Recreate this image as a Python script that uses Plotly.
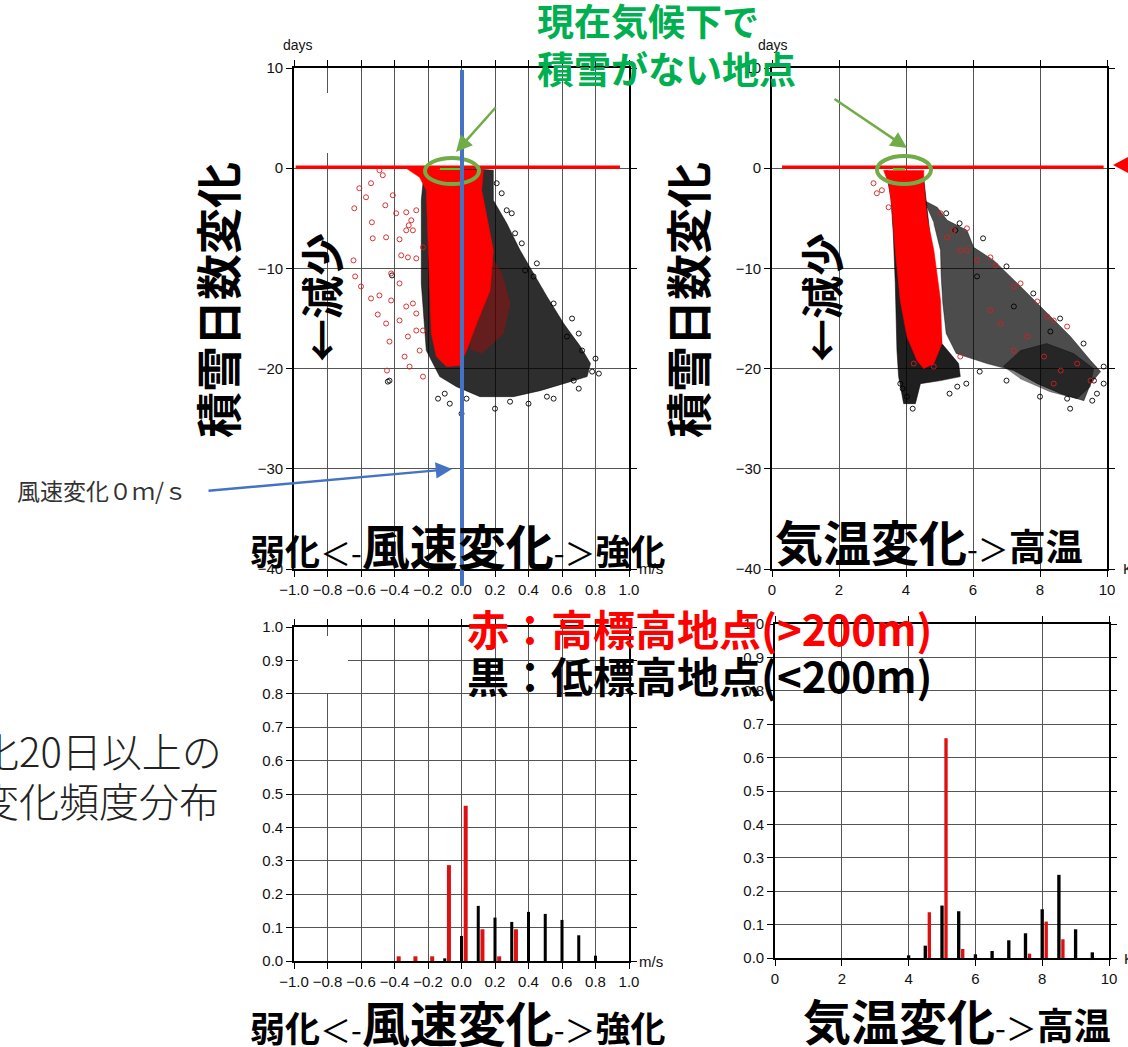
import plotly.graph_objects as go

W, H = 1128, 1047

# ---------------- DATA ----------------
# Top-left: wind-speed change (m/s) vs change in snow-cover days
tl_red_core_x = [-0.33, -0.25, -0.21, -0.20, -0.19, -0.18, -0.15, -0.09, -0.01, 0.03, 0.09, 0.17, 0.19, 0.15, 0.12, 0.13]
tl_red_core_y = [0.0, -0.9, -2.2, -6.5, -11.5, -16.5, -18.8, -19.8, -19.7, -18.2, -15.5, -12.2, -8.2, -4.9, -2.2, -0.2]
tl_black_cloud_x = [0.03, 0.19, 0.19, 0.27, 0.35, 0.43, 0.51, 0.61, 0.71, 0.77, 0.75, 0.61, 0.47, 0.31, 0.11, -0.03, -0.13, -0.21, -0.24, -0.24, -0.23]
tl_black_cloud_y = [0.0, -0.2, -3.2, -5.5, -8.2, -10.5, -12.8, -15.5, -17.8, -19.5, -20.8, -21.5, -22.2, -22.8, -22.8, -21.8, -20.8, -18.2, -11.5, -3.2, -1.5]
tl_red_mix_x = [0.15, 0.24, 0.29, 0.25, 0.12, 0.05, 0.10]
tl_red_mix_y = [-8.0, -10.5, -13.5, -16.5, -18.5, -18.0, -12.0]
tl_red_pts_x = [-0.49, -0.47, -0.61, -0.54, -0.64, -0.57, -0.455, -0.41, -0.39, -0.33, -0.30, -0.27, -0.535, -0.53, -0.45, -0.37,
                -0.33, -0.29, -0.315, -0.645, -0.36, -0.32, -0.27, -0.23, -0.635, -0.60, -0.42, -0.37, -0.54, -0.49, -0.42, -0.33,
                -0.29, -0.27, -0.50, -0.45, -0.43, -0.37, -0.34, -0.31, -0.25, -0.23, -0.445, -0.23, -0.32, -0.27]
tl_red_pts_y = [-0.2, -0.7, -2.0, -1.5, -4.0, -2.9, -3.7, -2.7, -4.5, -4.4, -5.2, -4.2, -5.4, -7.0, -6.9, -7.1,
                -6.2, -6.2, -5.7, -9.2, -8.7, -8.9, -9.0, -7.9, -10.8, -11.8, -10.5, -11.5, -13.0, -12.7, -13.2, -13.8,
                -13.5, -14.5, -14.6, -15.5, -17.3, -15.2, -18.8, -19.8, -18.2, -20.8, -20.2, -16.2, -16.8, -16.2]
tl_blk_pts_x = [-0.44, -0.14, -0.07, 0.03, 0.29, 0.51, 0.67, 0.78, 0.27, 0.43, 0.38, 0.63, 0.72, 0.21, 0.32, -0.415, -0.43,
                0.24, 0.30, 0.36, 0.45, 0.55, 0.66, 0.70, 0.80, 0.82, 0.70, 0.55, 0.40, 0.20, 0.00, -0.10]
tl_blk_pts_y = [-21.3, -23.0, -23.5, -23.0, -23.3, -22.8, -21.2, -20.3, -4.2, -10.8, -10.2, -16.8, -18.2, -1.5, -6.5, -10.7, -21.2,
                -2.5, -4.5, -7.5, -9.5, -13.5, -15.0, -16.5, -19.0, -20.5, -22.0, -23.0, -23.5, -24.0, -24.5, -22.5]

# Top-right: temperature change (K) vs change in snow-cover days
tr_red_core_x = [3.33, 3.48, 3.58, 3.68, 3.83, 4.03, 4.33, 4.53, 4.83, 5.07, 5.03, 4.83, 4.63, 4.53, 4.53]
tr_red_core_y = [-0.2, -1.5, -3.9, -8.2, -13.2, -16.8, -19.2, -20.0, -19.5, -17.5, -13.2, -8.2, -4.9, -1.5, -0.2]
tr_black_strip_x = [3.40, 3.55, 3.62, 3.68, 3.73, 3.78, 3.93, 4.28, 4.43, 5.03, 5.62, 5.57, 5.07, 4.53]
tr_black_strip_y = [-0.2, -3.0, -6.5, -11.5, -18.2, -20.8, -23.5, -23.5, -21.5, -21.2, -20.8, -19.5, -17.5, -1.0]
tr_band_x = [4.53, 4.93, 5.23, 5.82, 6.02, 6.62, 7.42, 8.22, 8.91, 9.51, 9.81, 9.51, 9.31, 8.62, 7.92, 7.22, 6.42, 5.50, 5.20, 5.10, 5.05, 5.03, 4.83]
tr_band_y = [-3.2, -3.9, -5.2, -6.2, -7.9, -9.2, -11.8, -14.5, -16.8, -19.2, -20.3, -21.5, -23.2, -22.5, -21.5, -20.2, -19.5, -18.5, -16.5, -13.5, -10.8, -8.2, -5.5]
tr_dense_x = [6.9, 7.42, 8.2, 9.0, 9.6, 9.5, 9.1, 8.3, 7.4]
tr_dense_y = [-19.8, -18.2, -17.5, -18.5, -20.0, -21.8, -23.0, -22.3, -21.0]
tr_red_pts_x = [3.03, 3.13, 3.28, 3.48, 5.03, 5.42, 5.82, 5.62, 6.52, 6.67, 6.12, 7.22, 7.42, 7.92, 8.22, 8.41, 8.81, 6.52,
                6.82, 7.62, 7.22, 8.12, 8.62, 9.11, 9.51, 8.41, 5.62, 4.83, 4.23, 5.82, 5.23]
tr_red_pts_y = [-1.5, -2.5, -2.2, -3.9, -4.5, -6.2, -6.0, -8.2, -8.9, -9.7, -9.2, -11.8, -11.5, -13.3, -14.8, -15.2, -15.8, -14.2,
                -15.5, -16.8, -18.2, -18.8, -20.2, -19.5, -21.2, -21.5, -18.8, -19.8, -19.5, -8.2, -6.9]
tr_blk_pts_x = [4.03, 3.83, 5.53, 9.61, 9.56, 8.81, 8.31, 7.22, 6.12, 5.47, 4.2, 3.9,
                5.2, 5.6, 6.3, 7.0, 7.8, 8.6, 9.3, 9.9, 9.9, 9.7, 8.9, 8.0, 7.0, 6.2, 5.8, 5.3]
tr_blk_pts_y = [-22.8, -21.5, -21.8, -21.2, -23.2, -23.0, -16.3, -13.8, -10.8, -6.2, -24.0, -22.0,
                -4.5, -5.5, -7.0, -9.8, -12.5, -15.0, -17.5, -19.8, -21.5, -22.5, -24.0, -22.8, -21.2, -20.3, -21.5, -22.5]

# Bottom-left: frequency of wind-speed change (m/s)
wind_bins = [-0.4, -0.3, -0.2, -0.1, 0.0, 0.1, 0.2, 0.3, 0.4, 0.5, 0.6, 0.7, 0.8]
wind_freq_low = [0.0, 0.0, 0.0, 0.008, 0.075, 0.165, 0.130, 0.117, 0.147, 0.141, 0.123, 0.077, 0.016]
wind_freq_high = [0.014, 0.014, 0.014, 0.287, 0.465, 0.095, 0.014, 0.095, 0.0, 0.0, 0.0, 0.0, 0.0]

# Bottom-right: frequency of temperature change (K)
temp_bins = [4.0, 4.5, 5.0, 5.5, 6.0, 6.5, 7.0, 7.5, 8.0, 8.5, 9.0, 9.5]
temp_freq_low = [0.008, 0.037, 0.157, 0.140, 0.011, 0.021, 0.053, 0.074, 0.146, 0.249, 0.086, 0.017]
temp_freq_high = [0.0, 0.137, 0.658, 0.027, 0.0, 0.0, 0.0, 0.013, 0.109, 0.056, 0.0, 0.0]

# ---------------- HELPERS ----------------
def px(x):
    return x / W

def py(y):
    return 1 - y / H

CJK = "Noto Sans CJK JP"
TICKF = "Liberation Sans, Arial, sans-serif"
RED = "#FF0000"
BARRED = "#DD1111"
GREEN_T = "#00B050"
GREEN_L = "#70AD47"
BLUE = "#4472C4"

fig = go.Figure()

def poly(xs, ys, fill, xa, ya):
    fig.add_trace(go.Scatter(x=xs, y=ys, mode="lines", fill="toself", fillcolor=fill,
                             line=dict(width=0.6, color=fill), xaxis=xa, yaxis=ya, hoverinfo="skip"))

def pts(xs, ys, color, xa, ya):
    fig.add_trace(go.Scatter(x=xs, y=ys, mode="markers", xaxis=xa, yaxis=ya,
                             marker=dict(symbol="circle-open", size=5, color=color, line=dict(width=0.9, color=color))))

# top-left
poly(tl_black_cloud_x, tl_black_cloud_y, "rgba(0,0,0,0.82)", "x", "y")
poly(tl_red_mix_x, tl_red_mix_y, "rgba(200,0,0,0.35)", "x", "y")
poly(tl_red_core_x, tl_red_core_y, RED, "x", "y")
pts(tl_blk_pts_x, tl_blk_pts_y, "#000", "x", "y")
pts(tl_red_pts_x, tl_red_pts_y, "#D02020", "x", "y")

# top-right
poly(tr_band_x, tr_band_y, "rgba(0,0,0,0.7)", "x2", "y2")
poly(tr_dense_x, tr_dense_y, "rgba(0,0,0,0.5)", "x2", "y2")
poly(tr_black_strip_x, tr_black_strip_y, "rgba(0,0,0,0.88)", "x2", "y2")
poly(tr_red_core_x, tr_red_core_y, RED, "x2", "y2")
pts(tr_blk_pts_x, tr_blk_pts_y, "#000", "x2", "y2")
pts(tr_red_pts_x, tr_red_pts_y, "#D02020", "x2", "y2")

# bottom-left bars
fig.add_trace(go.Bar(x=wind_bins, y=wind_freq_low, width=0.018, offset=-0.009, marker=dict(color="#000", line=dict(width=0)),
                     xaxis="x3", yaxis="y3"))
fig.add_trace(go.Bar(x=wind_bins, y=wind_freq_high, width=0.024, offset=0.013, marker=dict(color=BARRED, line=dict(width=0)),
                     xaxis="x3", yaxis="y3"))
# bottom-right bars
fig.add_trace(go.Bar(x=temp_bins, y=temp_freq_low, width=0.1, offset=-0.05, marker=dict(color="#000", line=dict(width=0)),
                     xaxis="x4", yaxis="y4"))
fig.add_trace(go.Bar(x=temp_bins, y=temp_freq_high, width=0.1, offset=0.07, marker=dict(color=BARRED, line=dict(width=0)),
                     xaxis="x4", yaxis="y4"))

def ax(domain, rng, dtick, fmt, anchor):
    return dict(domain=domain, range=rng, dtick=dtick, tick0=rng[0], tickformat=fmt, anchor=anchor,
                showgrid=True, gridcolor="#555", gridwidth=1, zeroline=False, automargin=False,
                showline=True, linecolor="#000", linewidth=1.6, mirror="ticks",
                ticks="outside", ticklen=6, tickcolor="#000", tickwidth=1, tickangle=0,
                tickfont=dict(family=TICKF, size=15, color="#111"), fixedrange=True)

top_dom = [py(569), py(68)]
bot_dom_l = [py(961), py(627)]
bot_dom_r = [py(958), py(624)]

fig.update_layout(
    width=W, height=H, margin=dict(l=0, r=0, t=0, b=0, pad=0, autoexpand=False),
    paper_bgcolor="white", plot_bgcolor="white",
    showlegend=False, barmode="overlay",
    xaxis=ax([px(294), px(629)], [-1, 1], 0.2, ".1f", "y"),
    yaxis=ax(top_dom, [-40, 10], 10, "d", "x"),
    xaxis2=ax([px(772), px(1107)], [0, 10], 2, "d", "y2"),
    yaxis2=ax(top_dom, [-40, 10], 10, "d", "x2"),
    xaxis3=ax([px(294), px(629)], [-1, 1], 0.2, ".1f", "y3"),
    yaxis3=ax(bot_dom_l, [0, 1], 0.1, ".1f", "x3"),
    xaxis4=ax([px(775), px(1109)], [0, 10], 2, "d", "y4"),
    yaxis4=ax(bot_dom_r, [0, 1], 0.1, ".1f", "x4"),
)

shapes = []
# white masks (erased areas in the source image)
shapes.append(dict(type="rect", xref="paper", yref="paper", x0=px(300), x1=px(340), y0=py(153), y1=py(93),
                   fillcolor="white", line=dict(width=0), layer="above"))
shapes.append(dict(type="rect", xref="paper", yref="paper", x0=px(298), x1=px(348), y0=py(693), y1=py(636),
                   fillcolor="white", line=dict(width=0), layer="above"))
# red zero lines
shapes.append(dict(type="line", xref="x", yref="y", x0=-0.99, x1=0.946, y0=0.1, y1=0.1, line=dict(color=RED, width=3.5), layer="above"))
shapes.append(dict(type="line", xref="x2", yref="y2", x0=0.3, x1=9.9, y0=0.1, y1=0.1, line=dict(color=RED, width=3.5), layer="above"))
# bright green marks (no-snow points)
shapes.append(dict(type="line", xref="paper", yref="paper", x0=px(440), x1=px(463), y0=py(169), y1=py(169),
                   line=dict(color="#33DD22", width=2), layer="above"))
shapes.append(dict(type="line", xref="paper", yref="paper", x0=px(893), x1=px(905), y0=py(169), y1=py(169),
                   line=dict(color="#33DD22", width=2), layer="above"))
# green ellipses
shapes.append(dict(type="circle", xref="paper", yref="paper", x0=px(425), x1=px(479), y0=py(184), y1=py(158),
                   line=dict(color=GREEN_L, width=4), layer="above"))
shapes.append(dict(type="circle", xref="paper", yref="paper", x0=px(877), x1=px(931), y0=py(184), y1=py(156),
                   line=dict(color=GREEN_L, width=4), layer="above"))
# blue zero wind line
shapes.append(dict(type="line", xref="paper", yref="paper", x0=px(462), x1=px(462), y0=py(586), y1=py(70),
                   line=dict(color=BLUE, width=4), layer="above"))
# red triangle marker at right edge
tri = "M {},{} L {},{} L {},{} Z".format(px(1113), py(165), px(1130), py(156), px(1130), py(174))
shapes.append(dict(type="path", xref="paper", yref="paper", path=tri, fillcolor=RED, line=dict(width=0), layer="above"))
fig.update_layout(shapes=shapes)

ann = []

def text(x, y, t, size, color="#000", weight=400, xanchor="center", yanchor="middle", angle=0, family=CJK, align="left"):
    ann.append(dict(xref="paper", yref="paper", x=px(x), y=py(y), text=t, showarrow=False,
                    xanchor=xanchor, yanchor=yanchor, textangle=angle, align=align,
                    font=dict(family=family, size=size, color=color, weight=weight)))

def arrow(tx, ty, sx, sy, color, width):
    ann.append(dict(xref="paper", yref="paper", x=px(tx), y=py(ty), ax=sx - tx, ay=sy - ty, text="",
                    showarrow=True, arrowhead=2, arrowsize=1.3, arrowwidth=width, arrowcolor=color, standoff=0))

# unit labels
text(298, 45, "days", 14, "#111", family=TICKF)
text(773, 45, "days", 14, "#111", family=TICKF)
text(637, 568, "m/s", 15, "#111", xanchor="left", family=TICKF)
text(637, 961, "m/s", 15, "#111", xanchor="left", family=TICKF)
text(1121, 568, "K", 15, "#111", xanchor="left", family=TICKF)
text(1122, 958, "K", 15, "#111", xanchor="left", family=TICKF)

# vertical titles
text(216, 300, "積雪日数変化", 46, weight=700, angle=-90)
text(686, 300, "積雪日数変化", 46, weight=700, angle=-90)
text(320, 298, "←減少", 43, weight=700, angle=-90)
text(820, 298, "←減少", 43, weight=700, angle=-90)

small = '<span style="font-size:31px;font-weight:400">{}</span>'
wind_lbl = ('<span style="font-size:35px">弱化</span>' + small.format('＜-') +
            '<span style="font-size:48px">風速変化</span>' + small.format('-＞') +
            '<span style="font-size:35px">強化</span>')
temp_lbl = ('<span style="font-size:48px">気温変化</span>' + small.format('-＞') +
            '<span style="font-size:37px">高温</span>')
text(248, 544, wind_lbl, 34, weight=700, xanchor="left")
text(248, 1021, wind_lbl, 34, weight=700, xanchor="left")
text(773, 540, temp_lbl, 34, weight=700, xanchor="left")
text(801, 1019, temp_lbl, 34, weight=700, xanchor="left")

# green note
text(535, 44, "現在気候下で<br>積雪がない地点", 37, GREEN_T, weight=700, xanchor="left")

# legend-like labels
text(465, 627, "赤：高標高地点(>200m)", 42, RED, weight=700, xanchor="left")
text(465, 674, "黒：低標高地点(<200m)", 42, "#000", weight=700, xanchor="left")

# side caption (partially cut at the left page edge)
text(224, 750, "変化20日以上の", 40, "#222", weight=300, xanchor="right")
text(221, 800, "変化頻度分布", 40, "#222", weight=300, xanchor="right")

# wind zero label
text(15, 490, "風速変化０ｍ/ｓ", 23, "#333", xanchor="left")

# arrows
arrow(452, 469, 207, 491, BLUE, 2.5)
arrow(456, 152, 497, 106, GREEN_L, 2.5)
arrow(907, 148, 833, 98, GREEN_L, 2.5)

fig.update_layout(annotations=ann)

fig.write_html("out.html")
